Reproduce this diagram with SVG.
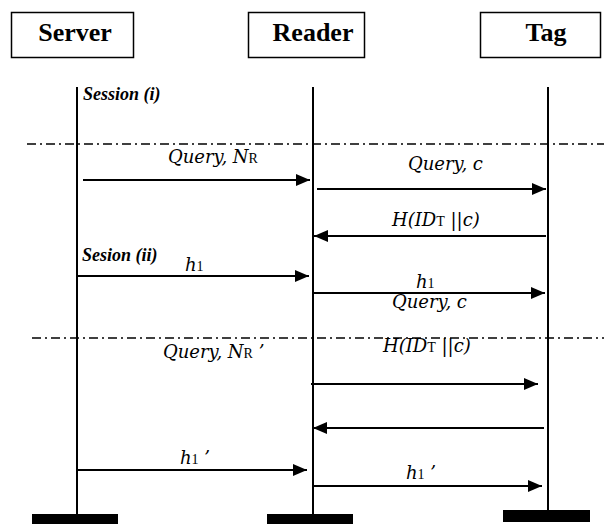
<svg xmlns="http://www.w3.org/2000/svg" width="604" height="524" viewBox="0 0 604 524">
<defs>
<marker id="ah" viewBox="0 0 14 12" refX="14" refY="6" markerWidth="14" markerHeight="12" markerUnits="userSpaceOnUse" orient="auto">
<path d="M0,0 L14,6 L0,12 Z" fill="#000"/>
</marker>
<style>
.box{fill:#fff;stroke:#000;stroke-width:1.5}
.hdr{font-family:"Liberation Serif",serif;font-weight:bold;font-size:26px;text-anchor:middle}
.life{stroke:#000;stroke-width:2;fill:none}
.bar{fill:#000}
.sep{stroke:#000;stroke-width:1.3;stroke-dasharray:9 4 2 4;fill:none}
.msg{stroke:#000;stroke-width:2;fill:none;marker-end:url(#ah)}
.lbl{font-family:"DejaVu Serif",serif;font-style:italic;font-size:18px;fill:#000}
.sub{font-family:"Liberation Serif",serif;font-style:normal;font-size:14px}
.ses{font-family:"Liberation Serif",serif;font-style:italic;font-weight:bold;font-size:18px}
</style>
</defs>
<rect width="604" height="524" fill="#fff"/>
<g id="server">
<rect class="box" x="11.5" y="12.5" width="122" height="45"/>
<text class="hdr" x="75" y="41">Server</text>
<line class="life" x1="77" y1="87" x2="77" y2="514"/>
<rect class="bar" x="32" y="514" width="86" height="10"/>
</g>
<g id="reader">
<rect class="box" x="248.5" y="12.5" width="116" height="45"/>
<text class="hdr" x="313" y="41">Reader</text>
<line class="life" x1="313" y1="87" x2="313" y2="514"/>
<rect class="bar" x="267" y="514" width="86" height="10"/>
</g>
<g id="tag">
<rect class="box" x="480.5" y="12.5" width="120" height="45"/>
<text class="hdr" x="546" y="41">Tag</text>
<line class="life" x1="548" y1="87" x2="548" y2="510"/>
<rect class="bar" x="503" y="510" width="87" height="12"/>
</g>
<g id="sessions">
<text class="ses" x="83" y="100">Session (i)</text>
<text class="ses" x="82" y="261">Sesion (ii)</text>
<line class="sep" x1="27" y1="144" x2="604" y2="144"/>
<line class="sep" x1="32" y1="338" x2="604" y2="338"/>
</g>
<g id="connectors">
<line class="msg" x1="83" y1="180" x2="310" y2="180"/>
<line class="msg" x1="317" y1="189" x2="546" y2="189"/>
<line class="msg" x1="546" y1="236" x2="314" y2="236"/>
<line class="msg" x1="77" y1="276" x2="309" y2="276"/>
<line class="msg" x1="313" y1="293" x2="545" y2="293"/>
<line class="msg" x1="311" y1="384" x2="538" y2="384"/>
<line class="msg" x1="544" y1="428" x2="313" y2="428"/>
<line class="msg" x1="77" y1="470" x2="307" y2="470"/>
<line class="msg" x1="312" y1="486" x2="542" y2="486"/>
</g>
<g id="labels">
<text class="lbl" x="168" y="163">Query, N<tspan class="sub">R</tspan></text>
<text class="lbl" x="408" y="170">Query, c</text>
<text class="lbl" x="392" y="226">H(ID<tspan class="sub">T</tspan> ||c)</text>
<text class="lbl" x="185" y="271">h<tspan class="sub">1</tspan></text>
<text class="lbl" x="416" y="288">h<tspan class="sub">1</tspan></text>
<text class="lbl" x="392" y="308">Query, c</text>
<text class="lbl" x="163" y="358">Query, N<tspan class="sub">R</tspan> ’</text>
<text class="lbl" x="383" y="352">H(ID<tspan class="sub">T</tspan> ||c)</text>
<text class="lbl" x="180" y="464">h<tspan class="sub">1</tspan> ’</text>
<text class="lbl" x="406" y="479">h<tspan class="sub">1</tspan> ’</text>
</g>
</svg>
